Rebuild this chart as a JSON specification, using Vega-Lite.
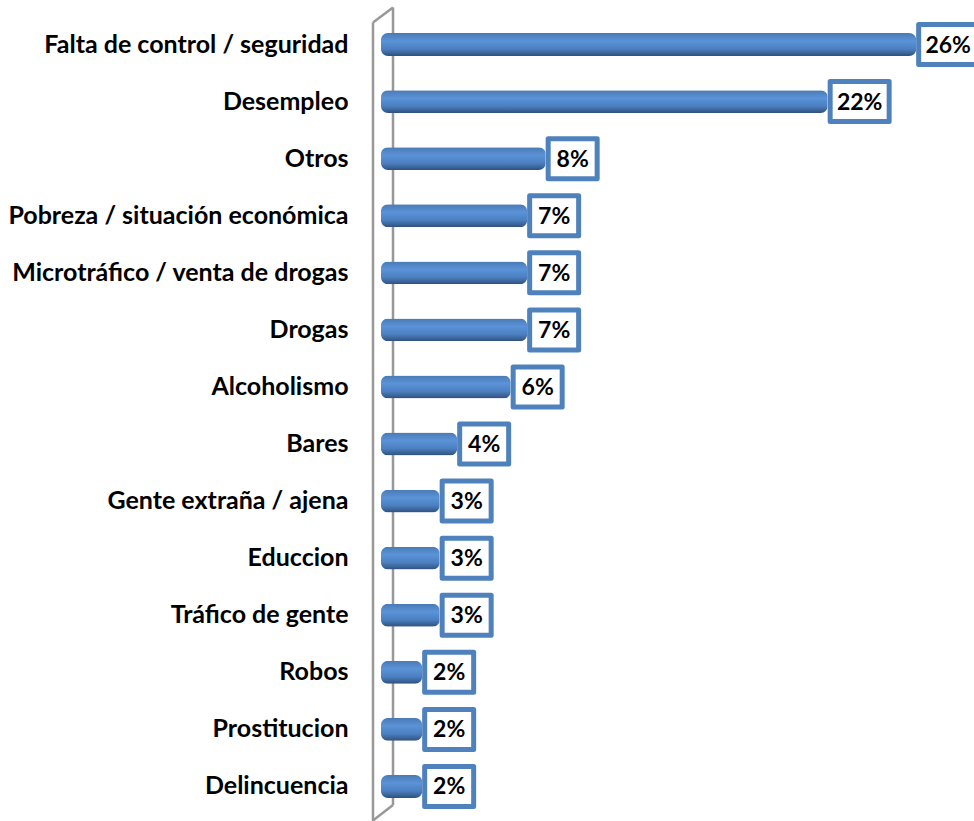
{
  "$schema": "https://vega.github.io/schema/vega-lite/v6.json",
  "width": 593,
  "height": 799,
  "autosize": "none",
  "padding": {"left": 381, "top": 16, "right": 0, "bottom": 6},
  "background": "white",
  "config": {"view": {"stroke": null}},
  "data": {
    "values": [
      {"cause": "Falta de control / seguridad", "value": 26.0, "label": "26%"},
      {"cause": "Desempleo", "value": 21.7, "label": "22%"},
      {"cause": "Otros", "value": 8.0, "label": "8%"},
      {"cause": "Pobreza / situación económica", "value": 7.1, "label": "7%"},
      {"cause": "Microtráfico / venta de drogas", "value": 7.1, "label": "7%"},
      {"cause": "Drogas", "value": 7.1, "label": "7%"},
      {"cause": "Alcoholismo", "value": 6.3, "label": "6%"},
      {"cause": "Bares", "value": 3.7, "label": "4%"},
      {"cause": "Gente extraña / ajena", "value": 2.85, "label": "3%"},
      {"cause": "Educcion", "value": 2.85, "label": "3%"},
      {"cause": "Tráfico de gente", "value": 2.85, "label": "3%"},
      {"cause": "Robos", "value": 2.0, "label": "2%"},
      {"cause": "Prostitucion", "value": 2.0, "label": "2%"},
      {"cause": "Delincuencia", "value": 2.0, "label": "2%"}
    ]
  },
  "layer": [
    {
      "data": {"values": [{}]},
      "mark": {"type": "rule", "color": "#989898", "strokeWidth": 2.5, "xOffset": 12, "yOffset": -37, "y2Offset": 18.5},
      "encoding": {
        "x": {"datum": 0, "type": "quantitative", "scale": {"domain": [0, 28.81]}, "axis": null},
        "y": {"datum": "Falta de control / seguridad", "type": "nominal", "scale": {"domain": ["Falta de control / seguridad", "Desempleo", "Otros", "Pobreza / situación económica", "Microtráfico / venta de drogas", "Drogas", "Alcoholismo", "Bares", "Gente extraña / ajena", "Educcion", "Tráfico de gente", "Robos", "Prostitucion", "Delincuencia"]}},
        "y2": {"datum": "Delincuencia"}
      }
    },
    {
      "data": {"values": [{}]},
      "mark": {"type": "rule", "color": "#989898", "strokeWidth": 2.5, "xOffset": -8, "yOffset": -22, "y2Offset": 35},
      "encoding": {
        "x": {"datum": 0, "type": "quantitative", "scale": {"domain": [0, 28.81]}, "axis": null},
        "y": {"datum": "Falta de control / seguridad", "type": "nominal"},
        "y2": {"datum": "Delincuencia"}
      }
    },
    {
      "data": {"values": [{}]},
      "mark": {"type": "rule", "color": "#989898", "strokeWidth": 2.5, "xOffset": -8, "x2Offset": 12, "yOffset": -22, "y2Offset": -37},
      "encoding": {
        "x": {"datum": 0, "type": "quantitative", "scale": {"domain": [0, 28.81]}, "axis": null},
        "x2": {"datum": 0},
        "y": {"datum": "Falta de control / seguridad", "type": "nominal"},
        "y2": {"datum": "Falta de control / seguridad"}
      }
    },
    {
      "data": {"values": [{}]},
      "mark": {"type": "rule", "color": "#989898", "strokeWidth": 2.5, "xOffset": -8, "x2Offset": 12, "yOffset": 34, "y2Offset": 18.5},
      "encoding": {
        "x": {"datum": 0, "type": "quantitative", "scale": {"domain": [0, 28.81]}, "axis": null},
        "x2": {"datum": 0},
        "y": {"datum": "Delincuencia", "type": "nominal"},
        "y2": {"datum": "Delincuencia"}
      }
    },
    {
      "mark": {
        "type": "bar",
        "height": {"band": 0.4},
        "cornerRadius": 7,
        "color": {
          "gradient": "linear",
          "x1": 0, "y1": 0, "x2": 0, "y2": 1,
          "stops": [
            {"offset": 0, "color": "#4a7ab5"},
            {"offset": 0.35, "color": "#5b93d8"},
            {"offset": 0.7, "color": "#4b7fc0"},
            {"offset": 1, "color": "#30507c"}
          ]
        }
      },
      "encoding": {
        "x": {"field": "value", "type": "quantitative", "scale": {"domain": [0, 28.81]}, "axis": null},
        "y": {
          "field": "cause", "type": "nominal", "sort": null, "title": null,
          "axis": {"domain": false, "ticks": false, "labelPadding": 33, "labelFont": "Lato", "labelFontWeight": "bold", "labelFontSize": 25, "labelColor": "#000000", "labelLimit": 400}
        }
      }
    },
    {
      "transform": [{"filter": "datum.value < 10"}],
      "layer": [
        {
          "mark": {"type": "point", "shape": "M0.1,-0.8H2.06V0.8H0.1Z", "size": 2500, "filled": true, "fill": "white", "stroke": "#4f81bd", "strokeWidth": 5, "opacity": 1, "strokeJoin": "round"},
          "encoding": {
            "x": {"field": "value", "type": "quantitative", "scale": {"domain": [0, 28.81]}},
            "y": {"field": "cause", "type": "nominal", "sort": null}
          }
        },
        {
          "mark": {"type": "text", "font": "Lato", "fontWeight": "bold", "fontSize": 23, "color": "#000000", "align": "center", "baseline": "middle", "xOffset": 27, "dy": 1},
          "encoding": {
            "x": {"field": "value", "type": "quantitative", "scale": {"domain": [0, 28.81]}},
            "y": {"field": "cause", "type": "nominal", "sort": null},
            "text": {"field": "label"}
          }
        }
      ]
    },
    {
      "transform": [{"filter": "datum.value >= 10"}],
      "layer": [
        {
          "mark": {"type": "point", "shape": "M0.1,-0.8H2.46V0.8H0.1Z", "size": 2500, "filled": true, "fill": "white", "stroke": "#4f81bd", "strokeWidth": 5, "opacity": 1, "strokeJoin": "round"},
          "encoding": {
            "x": {"field": "value", "type": "quantitative", "scale": {"domain": [0, 28.81]}},
            "y": {"field": "cause", "type": "nominal", "sort": null}
          }
        },
        {
          "mark": {"type": "text", "font": "Lato", "fontWeight": "bold", "fontSize": 23, "color": "#000000", "align": "center", "baseline": "middle", "xOffset": 32, "dy": 1},
          "encoding": {
            "x": {"field": "value", "type": "quantitative", "scale": {"domain": [0, 28.81]}},
            "y": {"field": "cause", "type": "nominal", "sort": null},
            "text": {"field": "label"}
          }
        }
      ]
    }
  ]
}
